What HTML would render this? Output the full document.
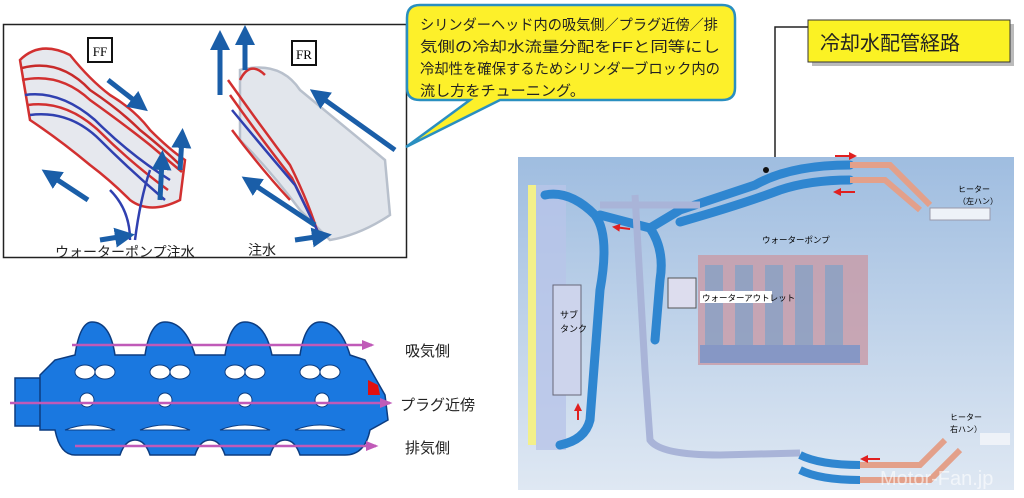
<!DOCTYPE html>
<html><head><meta charset="utf-8"><style>
body{margin:0;width:1024px;height:493px;background:#fff;overflow:hidden;font-family:"Liberation Sans","Noto Sans CJK JP",sans-serif}
</style></head><body>
<svg width="1024" height="493" viewBox="0 0 1024 493" xmlns="http://www.w3.org/2000/svg" font-family="Liberation Sans, Noto Sans CJK JP, sans-serif">
<defs>
<linearGradient id="bg" x1="0" y1="0" x2="0" y2="1"><stop offset="0" stop-color="#9fbde0"/><stop offset="1" stop-color="#dfe8f3"/></linearGradient>
<marker id="ba" markerWidth="4" markerHeight="4" refX="2" refY="2" orient="auto"><path d="M0,0L4,2L0,4z" fill="#1a5ea8"/></marker>
<marker id="ma" markerWidth="5" markerHeight="4" refX="4" refY="2" orient="auto"><path d="M0,0L5,2L0,4z" fill="#c05ab8"/></marker>
<marker id="ra" markerWidth="4" markerHeight="4" refX="3" refY="2" orient="auto"><path d="M0,0L4,2L0,4z" fill="#e02020"/></marker>
</defs>
<rect x="3.5" y="24.5" width="403" height="233" fill="#fff" stroke="#222" stroke-width="1.5"/>
<g fill="none" stroke-width="2.5">
<path d="M20,60 Q40,40 70,55 Q90,80 110,95 Q135,110 150,130 Q170,150 185,160 L180,200 Q150,215 130,200 Q110,180 90,165 Q60,140 30,120 Z" fill="#e6e8ee" stroke="#d23030"/>
<path d="M22,68 Q60,58 90,90 Q120,110 140,130 Q165,150 180,165" stroke="#c82a2a"/>
<path d="M22,80 Q60,72 90,100 Q125,125 150,145 Q170,162 182,172" stroke="#d23030"/>
<path d="M25,95 Q60,90 95,120 Q130,155 170,180" stroke="#3040b0"/>
<path d="M28,105 Q65,100 98,130 Q130,162 168,190" stroke="#d23030"/>
<path d="M30,115 Q70,110 100,140 Q130,170 165,200" stroke="#3040b0"/>
<path d="M110,190 Q130,210 130,240" stroke="#3040b0"/>
<path d="M150,170 Q140,200 135,240" stroke="#3040b0"/>
<path d="M240,70 Q280,60 300,90 L385,160 L390,215 Q360,235 330,240 L300,210 Q270,170 240,140 Z" fill="#e2e6ec" stroke="#b8c0cc"/>
<path d="M228,80 Q260,125 290,165 Q310,205 320,240" stroke="#d23030"/>
<path d="M230,95 Q262,140 292,178 Q310,215 322,240" stroke="#d23030"/>
<path d="M232,110 Q265,150 295,185 Q312,220 322,240" stroke="#3040b0"/>
<path d="M232,130 Q262,170 290,200" stroke="#d23030"/>
<path d="M240,80 Q250,60 265,75" stroke="#d23030"/>
</g>
<g stroke="#1a5ea8" stroke-width="5" marker-end="url(#ba)">
<line x1="108" y1="80" x2="140" y2="105"/><line x1="88" y1="200" x2="50" y2="175"/>
<line x1="160" y1="200" x2="162" y2="160"/><line x1="180" y1="170" x2="182" y2="138"/>
<line x1="100" y1="240" x2="125" y2="236"/>
<line x1="220" y1="95" x2="220" y2="40"/><line x1="245" y1="70" x2="245" y2="35"/>
<line x1="395" y1="150" x2="318" y2="95"/><line x1="315" y1="225" x2="250" y2="182"/>
<line x1="295" y1="240" x2="322" y2="236"/>
</g>
<rect x="88" y="38" width="24" height="24" fill="#fff" stroke="#111" stroke-width="2"/>
<text x="100" y="56" font-size="13" text-anchor="middle" font-family="Liberation Serif, serif">FF</text>
<rect x="292" y="41" width="24" height="24" fill="#fff" stroke="#111" stroke-width="2"/>
<text x="304" y="59" font-size="13" text-anchor="middle" font-family="Liberation Serif, serif">FR</text>
<text x="55" y="257" font-size="14" fill="#222">ウォーターポンプ注水</text>
<text x="248" y="255" font-size="14" fill="#222">注水</text>
<path d="M420,5 L722,5 Q735,5 735,18 L735,88 Q735,100 722,100 L500,100 L406,147 L470,100 L420,100 Q407,100 407,88 L407,18 Q407,5 420,5Z" fill="#fdf02a" stroke="#2a8fc0" stroke-width="2.5"/>
<text font-size="14.5" fill="#222"><tspan x="420" y="30" textLength="298" lengthAdjust="spacingAndGlyphs">シリンダーヘッド内の吸気側／プラグ近傍／排</tspan><tspan x="420" y="52" textLength="300" lengthAdjust="spacingAndGlyphs">気側の冷却水流量分配をFFと同等にし</tspan><tspan x="420" y="74" textLength="300" lengthAdjust="spacingAndGlyphs">冷却性を確保するためシリンダーブロック内の</tspan><tspan x="420" y="96" textLength="165" lengthAdjust="spacingAndGlyphs">流し方をチューニング。</tspan></text>
<rect x="812" y="24" width="202" height="42" fill="#bbb"/>
<rect x="808" y="20" width="202" height="42" fill="#fbf224" stroke="#333" stroke-width="1"/>
<text x="820" y="50" font-size="20" fill="#222">冷却水配管経路</text>
<polyline points="808,27 775,27 775,160" fill="none" stroke="#222" stroke-width="1.5"/>
<rect x="518" y="157" width="496" height="333" fill="url(#bg)"/>
<rect x="528" y="185" width="8" height="260" fill="#f3f08a"/>
<rect x="536" y="185" width="30" height="265" fill="#b8c4e8" opacity=".8"/>
<rect x="553" y="285" width="28" height="110" fill="#cdd4ec" stroke="#667" stroke-width="1"/>
<text x="560" y="318" font-size="9">サブ</text><text x="560" y="332" font-size="9">タンク</text>
<g fill="none" stroke="#2f86d0" stroke-width="9" stroke-linecap="round">
<path d="M545,195 Q570,190 595,215 Q610,235 600,290 L590,420 Q585,440 560,445"/>
<path d="M600,215 L650,228 L680,210 L755,185 Q790,165 850,165"/>
<path d="M680,222 Q740,205 780,190 Q810,180 850,180"/>
<path d="M650,228 Q665,250 660,280 L655,340"/>
</g>
<g fill="none" stroke="#a9b4d8" stroke-width="7">
<path d="M635,195 L645,370 L650,440 Q660,455 720,455 L800,453"/>
<path d="M600,205 L700,205"/>
</g>
<g fill="none" stroke="#e3a08a" stroke-width="6">
<path d="M850,165 L890,165 L930,205"/><path d="M850,180 L885,180 L920,210"/>
<path d="M860,465 L920,465 L945,440"/><path d="M860,480 L930,480 L960,450"/>
</g>
<g fill="none" stroke="#2f86d0" stroke-width="8"><path d="M800,455 Q820,465 860,465"/><path d="M800,470 Q820,480 860,480"/></g>
<rect x="930" y="208" width="60" height="12" fill="#eef2f8" stroke="#99a"/>
<rect x="980" y="433" width="30" height="12" fill="#eef2f8"/>
<rect x="698" y="255" width="170" height="110" fill="#c89aa6" opacity=".8"/>
<g fill="#7fa2c8" opacity=".7"><rect x="705" y="265" width="18" height="80"/><rect x="735" y="265" width="18" height="80"/><rect x="765" y="265" width="18" height="80"/><rect x="795" y="265" width="18" height="80"/><rect x="825" y="265" width="18" height="80"/></g>
<rect x="700" y="345" width="160" height="18" fill="#5a8ed0" opacity=".6"/>
<rect x="668" y="278" width="28" height="30" fill="#dde" stroke="#555"/>
<rect x="700" y="291" width="72" height="12" fill="#fff"/>
<text x="702" y="301" font-size="8.5">ウォーターアウトレット</text>
<text x="762" y="243" font-size="8.5">ウォーターポンプ</text>
<text x="958" y="192" font-size="8">ヒーター</text><text x="958" y="204" font-size="8">（左ハン）</text>
<text x="950" y="420" font-size="8">ヒーター</text><text x="950" y="432" font-size="8">右ハン）</text>
<circle cx="766" cy="170" r="3" fill="#111"/>
<g stroke="#e02020" stroke-width="2" marker-end="url(#ra)">
<line x1="835" y1="156" x2="855" y2="156"/><line x1="855" y1="192" x2="835" y2="192"/>
<line x1="630" y1="229" x2="614" y2="227"/><line x1="578" y1="420" x2="578" y2="405"/>
<line x1="880" y1="459" x2="862" y2="459"/>
</g>
<text x="880" y="485" font-size="20" fill="#fff" opacity=".6">Motor-Fan.jp</text>
<g fill="#1a78e0" stroke="#0c3c80" stroke-width="1.5">
<rect x="15" y="378" width="35" height="48"/>
<path d="M40,375 L55,360 L75,355 Q80,322 92,322 Q110,322 115,355 L145,355 Q150,322 165,322 Q185,322 195,355 L225,355 Q230,322 245,322 Q265,322 272,355 L300,355 Q305,322 320,322 Q340,322 350,355 L365,360 L385,395 L388,420 L370,430 Q365,455 345,455 L300,455 Q295,440 285,440 Q275,440 270,455 L225,455 Q220,440 210,440 Q200,440 195,455 L150,455 Q145,440 135,440 Q125,440 120,455 L75,455 Q60,455 55,430 L40,430 Z"/>
</g>
<g fill="#fff" stroke="#0c3c80">
<ellipse cx="85" cy="372" rx="10" ry="7"/><ellipse cx="105" cy="372" rx="10" ry="7"/>
<ellipse cx="160" cy="372" rx="10" ry="7"/><ellipse cx="180" cy="372" rx="10" ry="7"/>
<ellipse cx="235" cy="372" rx="10" ry="7"/><ellipse cx="255" cy="372" rx="10" ry="7"/>
<ellipse cx="310" cy="372" rx="10" ry="7"/><ellipse cx="330" cy="372" rx="10" ry="7"/>
<circle cx="87" cy="400" r="7"/><circle cx="165" cy="400" r="7"/><circle cx="245" cy="400" r="7"/><circle cx="322" cy="400" r="7"/>
<path d="M65,430 Q90,420 115,430Z"/><path d="M140,430 Q165,420 190,430Z"/><path d="M220,430 Q245,420 270,430Z"/><path d="M295,430 Q320,420 345,430Z"/>
</g>
<path d="M368,380 L378,385 L380,395 L368,395Z" fill="#e01010"/>
<g stroke="#c05ab8" stroke-width="2.5" marker-end="url(#ma)">
<line x1="72" y1="345" x2="372" y2="345"/><line x1="10" y1="403" x2="390" y2="403"/><line x1="75" y1="446" x2="376" y2="446"/>
</g>
<text x="405" y="356" font-size="15" fill="#222">吸気側</text>
<text x="400" y="410" font-size="15" fill="#222">プラグ近傍</text>
<text x="405" y="453" font-size="15" fill="#222">排気側</text>
</svg>
</body></html>
